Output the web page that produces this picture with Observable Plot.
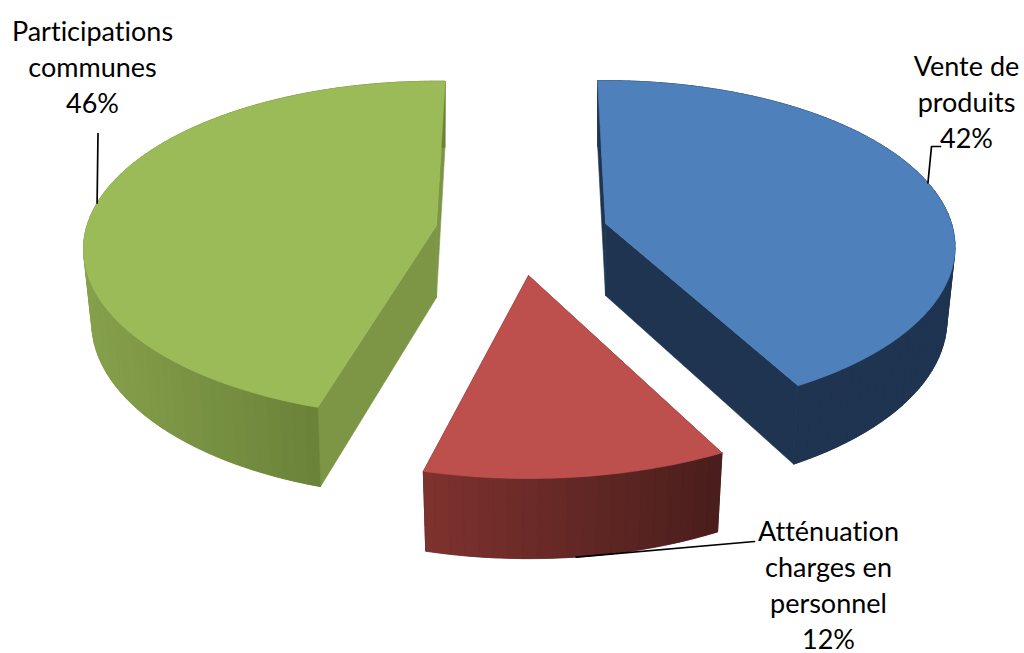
<!DOCTYPE html>
<html><head><meta charset="utf-8">
<script src="https://cdn.jsdelivr.net/npm/d3@7"></script>
<script src="https://cdn.jsdelivr.net/npm/@observablehq/plot@0.6"></script>
<style>html,body{margin:0;padding:0;background:#fff}svg{display:block}svg text{font-variant-ligatures:none}</style>
</head><body><div id="chart"></div>
<script>
// Data
const categories = ["Vente de produits", "Atténuation charges en personnel", "Participations communes"];
const shares = [42.3, 11.5, 45.7];
const labelText = ["Vente de\nproduits\n42%", "Atténuation\ncharges en\npersonnel\n12%", "Participations\ncommunes\n46%"];

// Drawing layout (3-D projection of each exploded slice)
const W = 1024, H = 653;
const RX = 346, RY = 163, K = 0.141, DEPTH = 72, SX = 0.977, SY = 1.04;
const sliceApex = [[605, 223], [528, 275], [436, 225]];
const sliceScale = [1, 1.07, 1.01];
const sliceStart = [-1.5, 152.8, 197.1];
const topFill = ["#4e80bc", "#bd4f4c", "#9bbb59"];
const radialFill = ["#1e3450", "#5e2725", "#7c9646"];
const wallFrom = ["#1e3450", "#80332f", "#86a14c"];
const wallTo = ["#1e3450", "#4a1e1c", "#6b8339"];
const labelAt = [[966, 100], [828, 583], [92, 65]];
const leaderAngle = [75, 173.5, 278];
const leaderBend = [[[931, 146], [940, 146]], [[754, 541]], [[97.5, 133]]];

const rad = d => d * Math.PI / 180;
function topPoint(i, deg) {
  const u = Math.sin(rad(deg)), v = -Math.cos(rad(deg)), w = 1 - K * v, s = sliceScale[i];
  return [sliceApex[i][0] + s * RX * u / w, sliceApex[i][1] + s * RY * v / w];
}
function floorOf(i, p) {
  const [ax, ay] = sliceApex[i];
  return [ax + (p[0] - ax) * SX, ay + DEPTH + (p[1] - ay) * SY];
}

const slices = categories.map((name, i) => {
  const a0 = sliceStart[i], a1 = a0 + shares[i] * 3.6;
  return {i, name, a0, a1, apex: sliceApex[i], apexFloor: floorOf(i, sliceApex[i])};
});

const backing = [], faces = [];
let fid = 0;
const addFace = (list, pts, color) => {
  const id = fid++;
  for (const p of [...pts, pts[0]]) list.push({x: p[0], y: p[1], id, color});
};
for (const s of slices) {
  const i = s.i, start = topPoint(i, s.a0), end = topPoint(i, s.a1);
  const arc = d3.range(s.a0, s.a1, 1).concat(s.a1);
  const rim = arc.map(a => topPoint(i, a));
  const ramp = d3.interpolateRgb(wallFrom[i], wallTo[i]);
  // radial walls
  addFace(faces, [s.apex, start, floorOf(i, start), s.apexFloor], radialFill[i]);
  addFace(faces, [s.apex, end, floorOf(i, end), s.apexFloor], radialFill[i]);
  // outer wall: one backing shape, then shaded strips over it
  addFace(backing, [...rim, ...rim.map(p => floorOf(i, p)).reverse()], ramp(0.5));
  const front = rim.filter(p => p[1] > s.apex[1]);
  const [xmin, xmax] = d3.extent(front, p => p[0]);
  for (let j = 0; j < rim.length - 1; j += 2) {
    const q = rim[Math.min(j + 2, rim.length - 1)], p = rim[j];
    const t = Math.max(0, Math.min(1, (p[0] - xmin) / (xmax - xmin)));
    addFace(faces, [p, q, floorOf(i, q), floorOf(i, p)], ramp(t));
  }
}
// top faces drawn last
const tops = [];
for (const s of slices) {
  const arc = d3.range(s.a0, s.a1, 1).concat(s.a1);
  const pts = [s.apex, ...arc.map(a => topPoint(s.i, a)), s.apex];
  for (const p of pts) tops.push({x: p[0], y: p[1], id: s.i, color: topFill[s.i]});
}
const leaders = [];
slices.forEach(s => {
  const pts = [topPoint(s.i, leaderAngle[s.i]), ...leaderBend[s.i]];
  if (s.i === 1) pts[0] = floorOf(s.i, pts[0]);
  pts.forEach(p => leaders.push({x: p[0], y: p[1], id: s.i}));
});
const labels = slices.map(s => ({x: labelAt[s.i][0], y: labelAt[s.i][1], text: labelText[s.i]}));

const chart = Plot.plot({
  width: W, height: H, margin: 0,
  x: {domain: [0, W], range: [0, W], axis: null},
  y: {domain: [0, H], range: [0, H], axis: null},
  color: {type: "identity"},
  marks: [
    Plot.line(backing, {x: "x", y: "y", z: "id", fill: "color", stroke: "color", strokeWidth: 0.5, curve: "linear"}),
    Plot.line(faces, {x: "x", y: "y", z: "id", fill: "color", stroke: "color", strokeWidth: 0.6, curve: "linear"}),
    Plot.line(tops, {x: "x", y: "y", z: "id", fill: "color", stroke: "color", strokeWidth: 0.6, curve: "linear"}),
    Plot.line(leaders, {x: "x", y: "y", z: "id", stroke: "#000", strokeWidth: 1.7, curve: "linear"}),
    Plot.text(labels, {x: "x", y: "y", text: "text", textAnchor: "middle", lineAnchor: "middle", lineHeight: 1.34,
      fontFamily: "Lato", fontSize: 27, fill: "#000"})
  ]
});
chart.style.background = "#fff";
document.getElementById("chart").append(chart);
</script></body></html>
